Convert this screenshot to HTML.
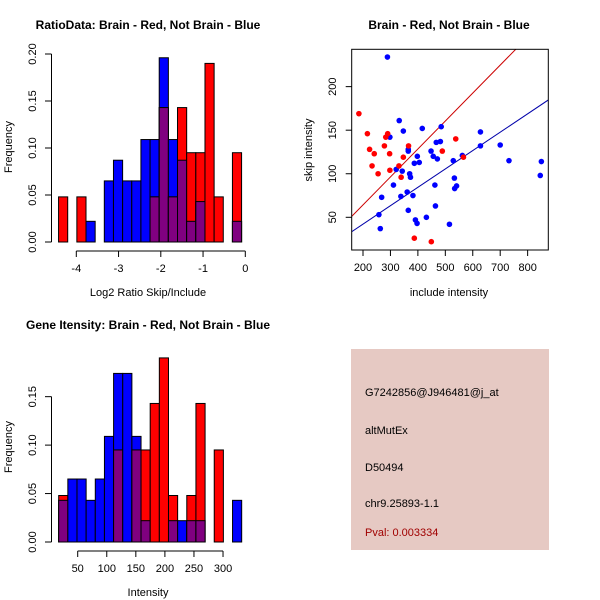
<!DOCTYPE html>
<html><head><meta charset="utf-8"><style>
body{margin:0;background:#fff;}
svg{display:block;font-family:"Liberation Sans",sans-serif;}
</style></head><body>
<svg id="s" width="600" height="600" xmlns="http://www.w3.org/2000/svg">
<rect width="600" height="600" fill="#fff"/>
<text x="148" y="29" font-size="12" font-weight="bold" text-anchor="middle">RatioData: Brain - Red, Not Brain - Blue</text>
<text x="449" y="29" font-size="12" font-weight="bold" text-anchor="middle">Brain - Red, Not Brain - Blue</text>
<text x="148" y="329" font-size="12" font-weight="bold" text-anchor="middle">Gene Itensity: Brain - Red, Not Brain - Blue</text>
<g>
<rect x="351" y="349" width="198" height="201" fill="#e6c9c3"/>
<text x="365" y="396" font-size="11">G7242856@J946481@j_at</text>
<text x="365" y="434" font-size="11">altMutEx</text>
<text x="365" y="471" font-size="11">D50494</text>
<text x="365" y="507" font-size="11">chr9.25893-1.1</text>
<text x="365" y="536" font-size="11" fill="#a00000">Pval: 0.003334</text>
</g>
</svg>
<script>
// Ratio histogram data
const ratioBinStart = -4.42, ratioBinWidth = 0.2166;
const ratioBlue = [0,0,0,0.022,0,0.065,0.087,0.065,0.065,0.109,0.109,0.196,0.109,0.087,0.022,0.043,0,0,0,0.022];
const ratioRed  = [0.048,0,0.048,0,0,0,0,0,0,0,0.048,0.143,0.048,0.143,0.095,0.095,0.190,0.048,0,0.095];
const ratioXTicks = [-4,-3,-2,-1,0];
const ratioYTicks = ["0.00","0.05","0.10","0.15","0.20"];
// Intensity histogram data
const intBinStart = 17.3, intBinWidth = 15.74;
const intBlue = [0.043,0.065,0.065,0.043,0.065,0.109,0.174,0.174,0.109,0.022,0,0,0.022,0.022,0.022,0.022,0,0,0,0.043];
const intRed  = [0.048,0,0,0,0,0,0.095,0,0.095,0.095,0.143,0.190,0.048,0,0.048,0.143,0,0.095,0,0];
const intXTicks = [50,100,150,200,250,300];
const intYTicks = ["0.00","0.05","0.10","0.15"];
// Scatter data
const blueX = [289,332,347,298,416,485,482,467,628,628,700,732,850,846,365,365,398,405,387,448,456,471,529,562,321,343,370,373,311,462,533,541,534,338,268,361,382,464,365,258,431,263,391,397,515];
const blueY = [234,161,149,142,152,154,137,136,148,132,133,115,114,98,128,126,120,113,112,126,120,117,115,121,105,103,100,96,87,87,95,86,83,74,73,79,75,63,58,53,50,37,47,43,42];
const redX = [185,216,290,283,224,241,278,297,233,255,298,331,347,366,339,538,489,566,387,449];
const redY = [169,146,146,142,128,123,132,123,109,100,104,109,119,132,96,140,126,119,26,22];
const redSlope = 0.321, blueSlope = 0.211;
const scXTicks = [200,300,400,500,600,700,800];
const scYTicks = [50,100,150,200];

const svg = document.getElementById('s');
const NS = 'http://www.w3.org/2000/svg';
function mk(tag, attrs, parent){const e=document.createElementNS(NS,tag);for(const k in attrs)e.setAttribute(k,attrs[k]);(parent||svg).appendChild(e);return e;}

function hist(name, blue, red, start, w, xs, ys, xTicks, yTicks, xLabel, x0, y0){
  const g = mk('g',{});
  
  
  const X = v => x0 + (v - xTicks[0]) * xs;
  const Y = v => y0 - v * ys;
  for(let i=0;i<blue.length;i++){
    const l = X(start + i*w), r = X(start + (i+1)*w);
    const b = blue[i], rd = red[i], m = Math.min(b, rd);
    if(b>0){const e=mk('rect',{x:l,y:Y(b),width:r-l,height:Y(0)-Y(b),fill:'#0000ff',stroke:'#000','stroke-width':1},g);
      
      }
    if(rd>0){const e=mk('rect',{x:l,y:Y(rd),width:r-l,height:Y(0)-Y(rd),fill:'#ff0000',stroke:'#000','stroke-width':1},g);
      
      }
    if(m>0){const e=mk('rect',{x:l,y:Y(m),width:r-l,height:Y(0)-Y(m),fill:'#800080',stroke:'#000','stroke-width':1},g);
      
      }
  }
  const yMax = parseFloat(yTicks[yTicks.length-1]);
  mk('line',{x1:51.5,x2:51.5,y1:Y(0),y2:Y(yMax),stroke:'#000'},g);
  yTicks.forEach(t=>{const v=parseFloat(t),y=Y(v);
    mk('line',{x1:45,x2:51.5,y1:y,y2:y,stroke:'#000'},g);
    const tx=mk('text',{x:36,y:y,'font-size':11,'text-anchor':'middle',transform:`rotate(-90 36 ${y})`},g);tx.textContent=t;
    
    });
  const ax = y0 + 9;
  mk('line',{x1:X(xTicks[0]),x2:X(xTicks[xTicks.length-1]),y1:ax,y2:ax,stroke:'#000'},g);
  xTicks.forEach(t=>{const x=X(t);
    mk('line',{x1:x,x2:x,y1:ax,y2:ax+6,stroke:'#000'},g);
    const tx=mk('text',{x:x,y:ax+21,'font-size':11,'text-anchor':'middle'},g);tx.textContent=t;
    
    });
  const xl=mk('text',{x:148,y:y0+54,'font-size':11,'text-anchor':'middle'},g);xl.textContent=xLabel;
  
  
  const yl=mk('text',{x:12,y:y0-95,'font-size':11,'text-anchor':'middle',transform:`rotate(-90 12 ${y0-95})`},g);yl.textContent='Frequency';
  
  
}
hist('ratio-histogram', ratioBlue, ratioRed, ratioBinStart, ratioBinWidth, 42.25, 940, ratioXTicks, ratioYTicks, 'Log2 Ratio Skip/Include', 76.3, 242);
hist('intensity-histogram', intBlue, intRed, intBinStart, intBinWidth, 0.5813, 968.9, intXTicks, intYTicks, 'Intensity', 77.7, 542);

// scatter
(function(){
  const g = mk('g',{});
  
  
  const X = v => 363 + (v-200)*0.2744;
  const Y = v => 217.3 - (v-50)*0.8711;
  const L=351.7,R=548.3,T=49.3,B=250;
  mk('clipPath',{id:'sc'},g); mk('rect',{x:L,y:T,width:R-L,height:B-T},svg.querySelector('#sc'));
  const xmin=(L-363)/0.2744+200, xmax=(R-363)/0.2744+200;
  const rl=mk('line',{x1:X(xmin),y1:Y(redSlope*xmin),x2:X(xmax),y2:Y(redSlope*xmax),stroke:'#cc0000','clip-path':'url(#sc)'},g);
  
  
  const bl=mk('line',{x1:X(xmin),y1:Y(blueSlope*xmin),x2:X(xmax),y2:Y(blueSlope*xmax),stroke:'#0000aa','clip-path':'url(#sc)'},g);
  
  
  blueX.forEach((x,i)=>{const c=mk('circle',{cx:X(x),cy:Y(blueY[i]),r:2.8,fill:'#0000ff'},g);
    
    });
  redX.forEach((x,i)=>{const c=mk('circle',{cx:X(x),cy:Y(redY[i]),r:2.8,fill:'#ff0000'},g);
    
    });
  mk('rect',{x:L,y:T,width:R-L,height:B-T,fill:'none',stroke:'#000'},g);
  scXTicks.forEach(t=>{const x=X(t);
    mk('line',{x1:x,x2:x,y1:B,y2:B+6,stroke:'#000'},g);
    const tx=mk('text',{x:x,y:B+21,'font-size':11,'text-anchor':'middle'},g);tx.textContent=t;
    
    });
  scYTicks.forEach(t=>{const y=Y(t);
    mk('line',{x1:L-6,x2:L,y1:y,y2:y,stroke:'#000'},g);
    const tx=mk('text',{x:336,y:y,'font-size':11,'text-anchor':'middle',transform:`rotate(-90 336 ${y})`},g);tx.textContent=t;
    
    });
  const xl=mk('text',{x:449,y:296,'font-size':11,'text-anchor':'middle'},g);xl.textContent='include intensity';
  
  
  const yl=mk('text',{x:312,y:150,'font-size':11,'text-anchor':'middle',transform:'rotate(-90 312 150)'},g);yl.textContent='skip intensity';
  
  
})();
</script>
</body></html>
